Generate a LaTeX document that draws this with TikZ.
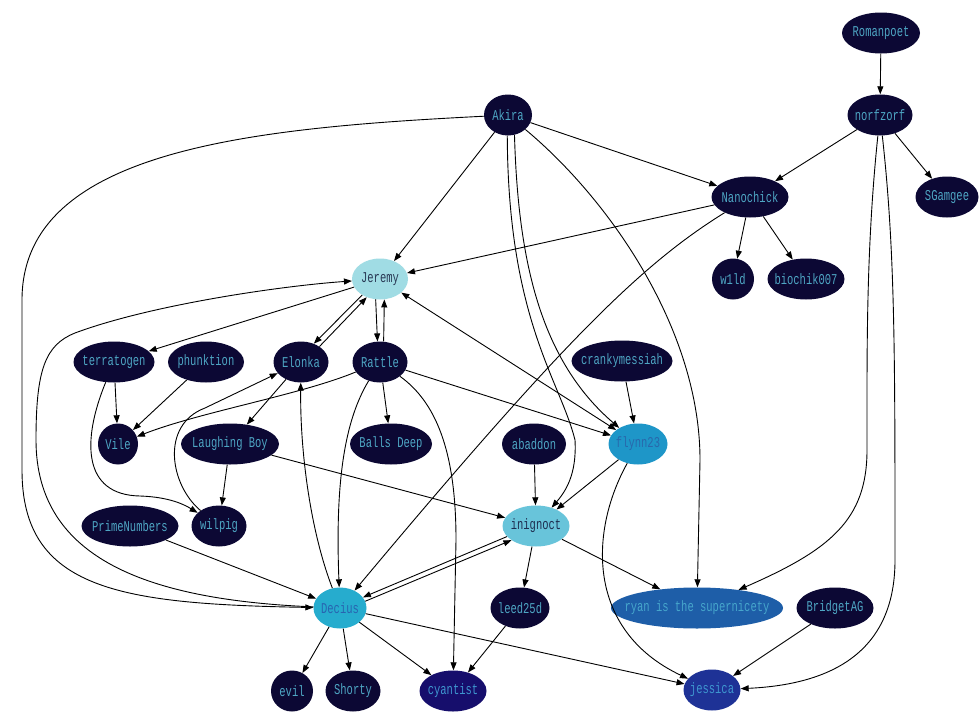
\documentclass[tikz,border=0pt]{standalone}
\usepackage{fontspec}
\newfontfamily\gvfont[FakeStretch=0.7]{Liberation Mono}
\usetikzlibrary{shapes.geometric,arrows.meta}
\definecolor{dk}{RGB}{12,8,52}
\definecolor{dktxt}{RGB}{78,166,196}
\definecolor{jerfill}{RGB}{160,220,228}
\definecolor{jertxt}{RGB}{40,56,84}
\definecolor{inifill}{RGB}{104,196,218}
\definecolor{initxt}{RGB}{30,46,80}
\definecolor{decfill}{RGB}{38,172,206}
\definecolor{dectxt}{RGB}{40,100,176}
\definecolor{flyfill}{RGB}{30,150,200}
\definecolor{flytxt}{RGB}{40,104,172}
\definecolor{ryafill}{RGB}{30,94,168}
\definecolor{ryatxt}{RGB}{70,166,204}
\definecolor{jesfill}{RGB}{30,50,150}
\definecolor{jestxt}{RGB}{62,150,208}
\definecolor{cyafill}{RGB}{22,14,108}
\definecolor{cyatxt}{RGB}{62,150,208}
\newcommand{\gvt}[1]{\makebox[0pt]{#1}}
\begin{document}
\begin{tikzpicture}[x=1pt,y=-1pt,
  gv/.style={ellipse,draw=none,inner sep=0pt,minimum height=41pt,font=\gvfont\fontsize{15}{15}\selectfont},
  dark/.style={gv,fill=dk,text=dktxt},
  e/.style={-{Triangle[length=8pt,width=6pt]},line width=0.9pt,black},
  ee/.style={{Triangle[length=8pt,width=6pt]}-{Triangle[length=8pt,width=6pt]},line width=0.9pt,black}]
\useasboundingbox[fill=white] (0,0) rectangle (980,720);
% rank 0
\node[dark,minimum width=78pt] (Romanpoet) at (881,33) {\gvt{Romanpoet}};
% rank 1
\node[dark,minimum width=48pt] (Akira) at (508,115) {\gvt{Akira}};
\node[dark,minimum width=65pt] (norfzorf) at (880,115) {\gvt{norfzorf}};
% rank 2
\node[dark,minimum width=77pt] (Nanochick) at (750,197) {\gvt{Nanochick}};
\node[dark,minimum width=63pt] (SGamgee) at (947,197) {\gvt{SGamgee}};
% rank 3
\node[gv,fill=jerfill,text=jertxt,minimum width=56pt] (Jeremy) at (380,279) {\gvt{Jeremy}};
\node[dark,minimum width=42pt] (w1ld) at (733,279) {\gvt{w1ld}};
\node[dark,minimum width=77pt] (biochik) at (806,279) {\gvt{biochik007}};
% rank 4
\node[dark,minimum width=81pt] (terratogen) at (114,362) {\gvt{terratogen}};
\node[dark,minimum width=76pt] (phunktion) at (206,362) {\gvt{phunktion}};
\node[dark,minimum width=55pt] (Elonka) at (301,362) {\gvt{Elonka}};
\node[dark,minimum width=55pt] (Rattle) at (380,362) {\gvt{Rattle}};
\node[dark,minimum width=101pt] (cranky) at (622,361) {\gvt{crankymessiah}};
% rank 5
\node[dark,minimum width=40pt] (Vile) at (118,444) {\gvt{Vile}};
\node[dark,minimum width=98pt] (Laughing) at (230,444) {\gvt{Laughing Boy}};
\node[dark,minimum width=82pt] (Balls) at (391,444) {\gvt{Balls Deep}};
\node[dark,minimum width=64pt] (abaddon) at (534,444) {\gvt{abaddon}};
\node[gv,fill=flyfill,text=flytxt,minimum width=59pt] (flynn) at (638,444) {\gvt{flynn23}};
% rank 6
\node[dark,minimum width=97pt] (Prime) at (130,526) {\gvt{PrimeNumbers}};
\node[dark,minimum width=55pt] (wilpig) at (219,526) {\gvt{wilpig}};
\node[gv,fill=inifill,text=initxt,minimum width=67pt] (inignoct) at (536,526) {\gvt{inignoct}};
% rank 7
\node[gv,fill=decfill,text=dectxt,minimum width=53pt] (Decius) at (340,608) {\gvt{Decius}};
\node[dark,minimum width=59pt] (leed) at (520,608) {\gvt{leed25d}};
\node[gv,fill=ryafill,text=ryatxt,minimum width=172pt] (ryan) at (697,608) {\gvt{ryan is the supernicety}};
\node[dark,minimum width=77pt] (Bridget) at (835,608) {\gvt{BridgetAG}};
% rank 8
\node[dark,minimum width=42pt] (evil) at (292,691) {\gvt{evil}};
\node[dark,minimum width=55pt] (Shorty) at (353,691) {\gvt{Shorty}};
\node[gv,fill=cyafill,text=cyatxt,minimum width=67pt] (cyantist) at (453,691) {\gvt{cyantist}};
\node[gv,fill=jesfill,text=jestxt,minimum width=57pt] (jessica) at (712,690) {\gvt{jessica}};

% edges
\draw[e] (Romanpoet) -- (norfzorf);
\draw[e] (norfzorf) -- (Nanochick);
\draw[e] (norfzorf) -- (SGamgee);
\draw[e] (norfzorf) .. controls (866,250) and (867,350) .. (867,450) .. controls (867,520) and (830,550) .. (ryan);
\draw[e] (norfzorf) .. controls (895,250) and (895,350) .. (895,560) .. controls (895,660) and (820,685) .. (jessica);
\draw[e] (Akira) -- (Nanochick);
\draw[e] (Akira) -- (Jeremy);
\draw[e] (Akira) .. controls (250,128) and (22,150) .. (22,300) -- (22,470) .. controls (22,590) and (120,604) .. (Decius);
\draw[e] (Akira.268) .. controls (508,320) and (560,380) .. (575,440) .. controls (577,475) and (565,492) .. (inignoct);
\draw[e] (Akira.288) .. controls (518,260) and (540,360) .. (flynn);
\draw[e] (Akira) .. controls (610,200) and (700,330) .. (700,460) -- (ryan);
\draw[e] (Nanochick) -- (Jeremy);
\draw[e] (Nanochick) .. controls (640,265) and (560,345) .. (Decius);
\draw[e] (Nanochick) -- (w1ld);
\draw[e] (Nanochick) -- (biochik);
\draw[e] (Jeremy) -- (terratogen);
\draw[e] (Jeremy.222) -- (Elonka.55);
\draw[e] (Elonka.40) -- (Jeremy.234);
\draw[e] (Jeremy.258) -- (Rattle.97);
\draw[e] (Rattle.80) -- (Jeremy.282);
\draw[ee] (Jeremy) -- (flynn);
\draw[e] (Decius) .. controls (150,600) and (36,560) .. (36,440) .. controls (36,370) and (45,345) .. (75,333) .. controls (150,305) and (280,286) .. (Jeremy);
\draw[e] (terratogen) -- (Vile);
\draw[e] (terratogen) .. controls (82,440) and (82,495) .. (140,496) .. controls (170,497) and (185,505) .. (wilpig);
\draw[e] (phunktion) -- (Vile);
\draw[e] (Rattle) .. controls (300,395) and (200,412) .. (Vile);
\draw[e] (Rattle) -- (Balls);
\draw[e] (Rattle) -- (flynn);
\draw[e] (Rattle) .. controls (345,420) and (335,480) .. (Decius);
\draw[e] (Rattle) .. controls (440,405) and (456,460) .. (456,540) -- (cyantist);
\draw[e] (Elonka) -- (Laughing);
\draw[e] (wilpig) .. controls (170,485) and (160,425) .. (205,408) -- (Elonka);
\draw[e] (Decius) .. controls (310,530) and (300,450) .. (Elonka);
\draw[e] (Laughing) -- (wilpig);
\draw[e] (Laughing) -- (inignoct);
\draw[e] (cranky) -- (flynn);
\draw[e] (abaddon) -- (inignoct);
\draw[e] (flynn) -- (inignoct);
\draw[e] (flynn) .. controls (590,530) and (585,630) .. (jessica);
\draw[e] (inignoct.200) -- (Decius.25);
\draw[e] (Decius.15) -- (inignoct.210);
\draw[e] (inignoct) -- (leed);
\draw[e] (inignoct) -- (ryan);
\draw[e] (leed) -- (cyantist);
\draw[e] (Prime) -- (Decius);
\draw[e] (Decius) -- (evil);
\draw[e] (Decius) -- (Shorty);
\draw[e] (Decius) -- (cyantist);
\draw[e] (Decius) -- (jessica);
\draw[e] (Bridget) -- (jessica);
\end{tikzpicture}
\end{document}
